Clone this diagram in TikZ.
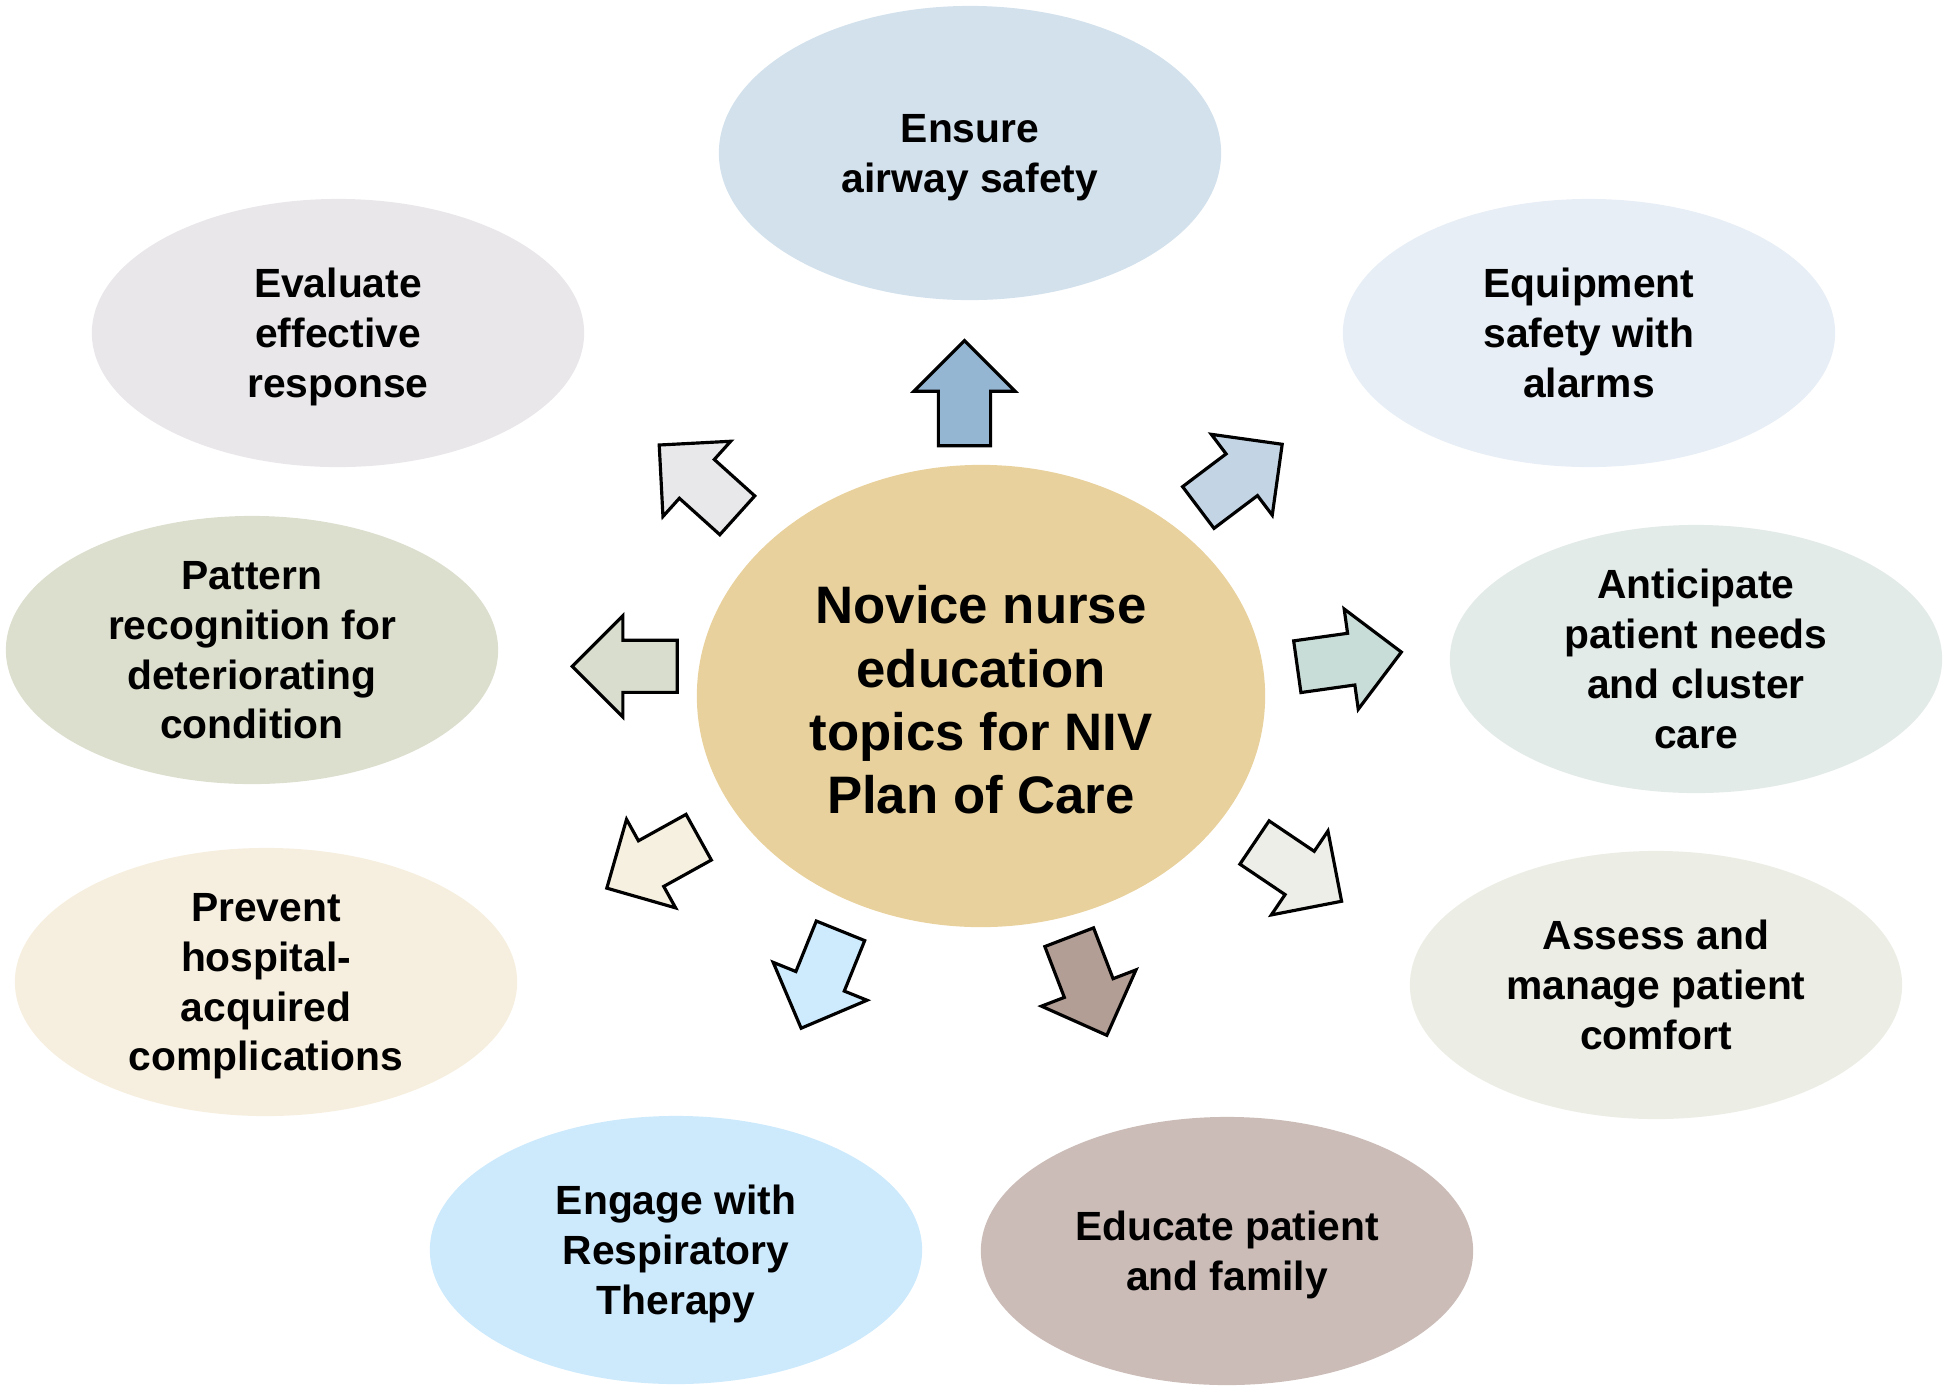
\documentclass[tikz,border=0pt]{standalone}
\usepackage{fontspec}
\setmainfont{Liberation Sans}
\usetikzlibrary{shapes.geometric, shapes.arrows}

\definecolor{hubc}{HTML}{E8D19C}
\definecolor{airwayc}{HTML}{D3E1EC}
\definecolor{equipc}{HTML}{E8EEF6}
\definecolor{evalc}{HTML}{E9E7EA}
\definecolor{patternc}{HTML}{DCDFCE}
\definecolor{anticipc}{HTML}{E3EBE8}
\definecolor{preventc}{HTML}{F6EFDF}
\definecolor{assessc}{HTML}{ECEEE6}
\definecolor{engagec}{HTML}{CDE9FC}
\definecolor{educatec}{HTML}{CBBCB7}
% arrow fills
\definecolor{airwaya}{HTML}{94B6D2}
\definecolor{equipa}{HTML}{C3D5E5}
\definecolor{anticipa}{HTML}{C9DDD8}
\definecolor{assessa}{HTML}{EDEEE7}
\definecolor{educatea}{HTML}{B39E95}
\definecolor{engagea}{HTML}{CDEBFC}
\definecolor{preventa}{HTML}{F6F0E0}
\definecolor{patterna}{HTML}{D9DDCD}
\definecolor{evala}{HTML}{E8E7EA}

\begin{document}
\begin{tikzpicture}[x=0.01cm, y=-0.01cm,
  topic/.style={ellipse, inner sep=0pt, minimum width=4.92cm, minimum height=2.68cm,
    align=center, text depth=0pt, font=\bfseries\fontsize{11.6}{14.2}\selectfont},
  hub/.style={ellipse, inner sep=0pt, minimum width=5.68cm, minimum height=4.62cm,
    align=center, text height=67pt, text depth=0pt, font=\bfseries\fontsize{15}{18}\selectfont},
  pointer/.style={single arrow, draw=black, line width=0.9pt, outer sep=0pt,
    inner xsep=0pt, inner ysep=0.245cm, single arrow head extend=0.245cm,
    minimum height=1.05cm, anchor=tail}]
  \useasboundingbox (0,0) rectangle (1950,1393);
  % Central topic
  \node[hub, fill=hubc] (hub) at (981,696) {Novice nurse\\education\\topics for NIV\\Plan of Care};
  % Outer topics, clockwise from the top
  \node[topic, fill=airwayc, minimum width=5.02cm, minimum height=2.94cm] (airway) at (970,153) {Ensure\\airway safety};
  \node[topic, fill=equipc]   (equip)   at (1589,333)  {Equipment\\safety with\\alarms};
  \node[topic, fill=anticipc] (anticip) at (1696,659)  {Anticipate\\patient needs\\and cluster\\care};
  \node[topic, fill=assessc]  (assess)  at (1656,985)  {Assess and\\manage patient\\comfort};
  \node[topic, fill=educatec] (educate) at (1227,1251) {Educate patient\\and family};
  \node[topic, fill=engagec]  (engage)  at (676,1250)  {Engage with\\Respiratory\\Therapy};
  \node[topic, fill=preventc, minimum width=5.02cm] (prevent) at (266,982) {Prevent\\hospital-\\acquired\\complications};
  \node[topic, fill=patternc] (pattern) at (252,650)   {Pattern\\recognition for\\deteriorating\\condition};
  \node[topic, fill=evalc]    (eval)    at (338,333)   {Evaluate\\effective\\response};
  % Block arrows pointing outwards
  \node[pointer, fill=airwaya, rotate=90]    (p-airway)  at (964.5,445.7)  {};
  \node[pointer, fill=equipa, rotate=37]     (p-equip)   at (1198.3,507.5) {};
  \node[pointer, fill=anticipa, rotate=8]    (p-anticip) at (1297.3,666.7) {};
  \node[pointer, fill=assessa, rotate=-34]   (p-assess)  at (1254.5,842.5) {};
  \node[pointer, fill=educatea, rotate=-69]  (p-educate) at (1069.2,937.2) {};
  \node[pointer, fill=engagea, rotate=-112]  (p-engage)  at (840.5,930.8)  {};
  \node[pointer, fill=preventa, rotate=-151] (p-prevent) at (698.7,837.2)  {};
  \node[pointer, fill=patterna, rotate=180]  (p-pattern) at (677.3,666.3)  {};
  \node[pointer, fill=evala, rotate=138]     (p-eval)    at (737.3,515.3)  {};
\end{tikzpicture}
\end{document}
